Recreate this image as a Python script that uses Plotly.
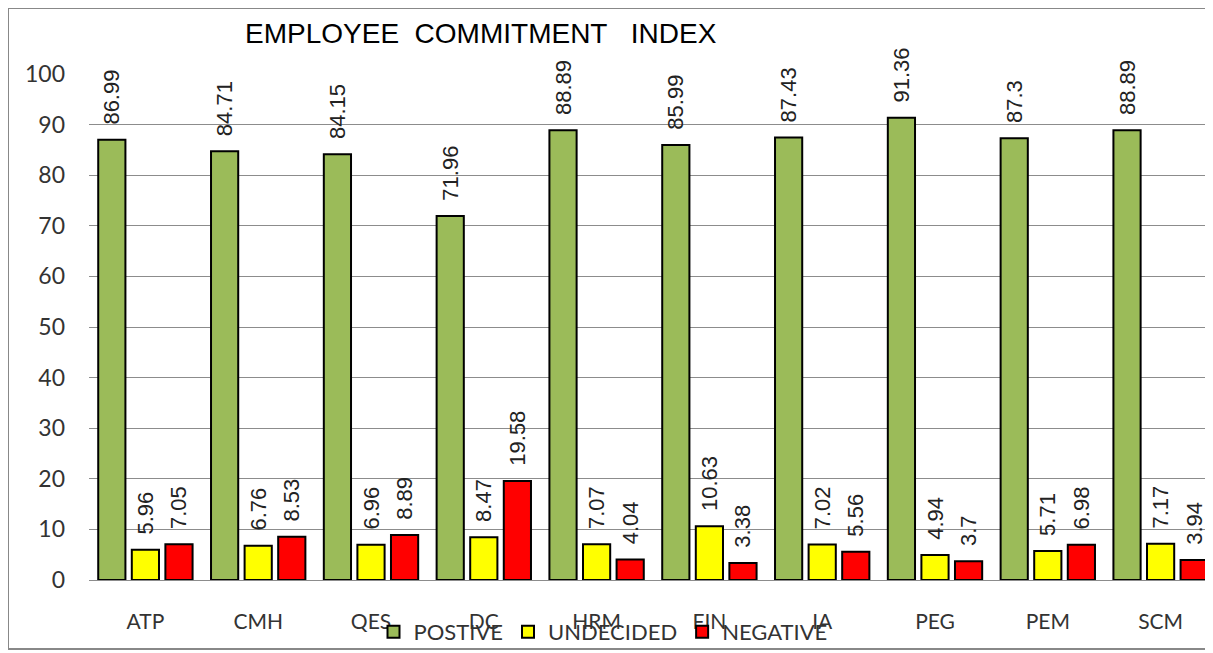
import plotly.graph_objects as go

categories = ["ATP", "CMH", "QES", "DC", "HRM", "FIN", "IA", "PEG", "PEM", "SCM"]
postive = [86.99, 84.71, 84.15, 71.96, 88.89, 85.99, 87.43, 91.36, 87.3, 88.89]
undecided = [5.96, 6.76, 6.96, 8.47, 7.07, 10.63, 7.02, 4.94, 5.71, 7.17]
negative = [7.05, 8.53, 8.89, 19.58, 4.04, 3.38, 5.56, 3.7, 6.98, 3.94]

series = [("POSTIVE", postive, "#9BBB59"),
          ("UNDECIDED", undecided, "#FFFF00"),
          ("NEGATIVE", negative, "#FF0000")]

# the page puts the figure 8px in from the top-left corner;
# the plot area runs a little past the right edge of the window, as in the source
OFF = 8
W, H = 1217 - OFF, 653 - OFF
ML, MR, MT, MB = 89 - OFF, 0, 74 - OFF, 73

fig = go.Figure()
for name, vals, col in series:
    fig.add_trace(go.Bar(
        x=categories, y=vals, name=name,
        marker=dict(color=col, line=dict(color="black", width=2)),
        text=["&nbsp;&nbsp;" + str(v) for v in vals],
        textposition="outside", textangle=-90,
        textfont=dict(family="Liberation Sans, Arial", size=22, color="#222"),
        constraintext="none", cliponaxis=False,
    ))

# helpers: screen pixel -> paper coords
pw, ph = W - ML - MR, H - MT - MB
def px(x): return (x - OFF - ML) / pw
def py(y): return (H - MB - (y - OFF)) / ph

fig.add_shape(type="rect", xref="paper", yref="paper",
              x0=px(8), x1=px(1207), y0=py(649), y1=py(8),
              line=dict(color="#888", width=2), layer="below")

fig.update_layout(
    width=W, height=H,
    margin=dict(l=ML, r=MR, t=MT, b=MB, autoexpand=False),
    paper_bgcolor="white", plot_bgcolor="white",
    barmode="group", bargap=0.107, bargroupgap=0.19,
    title=dict(text="EMPLOYEE&nbsp;&nbsp;COMMITMENT&nbsp;&nbsp;&nbsp;INDEX",
               x=px(245), xanchor="left", xref="paper",
               y=1 - (33 - OFF) / H, yanchor="middle",
               font=dict(family="Liberation Sans, Arial", size=28, color="black")),
    font=dict(family="Lato, Open Sans", color="#333"),
    legend=dict(orientation="h", x=px(603), xanchor="center",
                y=py(632), yanchor="middle",
                font=dict(size=22, color="#333", family="Lato"),
                bgcolor="rgba(0,0,0,0)", itemwidth=30),
    showlegend=True,
)
fig.update_yaxes(range=[0, 100], dtick=10, showgrid=True, gridcolor="#8c8c8c",
                 gridwidth=1, zeroline=False, showline=False, automargin=False,
                 tickfont=dict(size=23, color="#333"), ticks="",
                 ticklabelstandoff=23)
fig.update_xaxes(showline=True, linecolor="#8c8c8c", linewidth=1, automargin=False,
                 tickfont=dict(size=21, color="#333"), ticks="",
                 ticklabelstandoff=23)

fig.write_html("out.html")
